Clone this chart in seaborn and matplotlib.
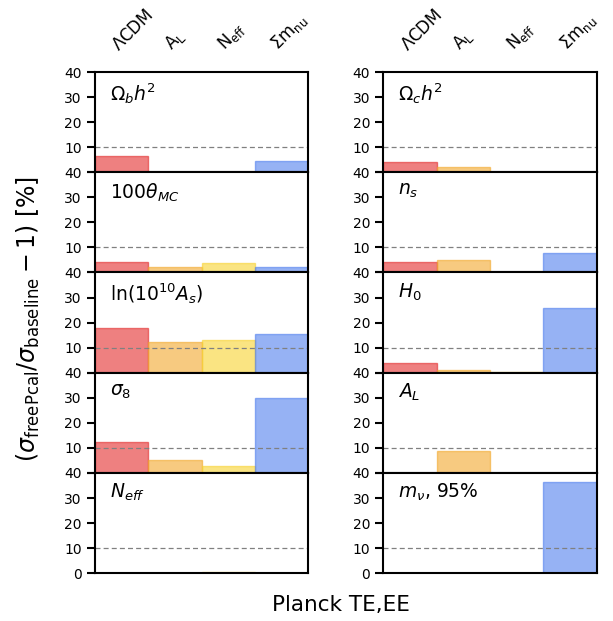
import pandas as pd
import matplotlib
matplotlib.use('Agg')
import matplotlib.pyplot as plt
import seaborn as sns

# extensions of the baseline model (x categories)
models = ['LCDM', 'AL', 'Neff', 'mnu']
model_labels = [r'$\Lambda$CDM', r'$\mathrm{A_L}$', r'$\mathrm{N_{eff}}$', r'$\Sigma\mathrm{m_{nu}}$']
colors = ['#e32b2b', '#f2a82b', '#f7d22f', '#507fee']

# parameter panels, left column then right column
params_left = [r'$\Omega_b h^2$', r'$100\theta_{MC}$', r'$\ln(10^{10}A_s)$', r'$\sigma_8$', r'$N_{eff}$']
params_right = [r'$\Omega_c h^2$', r'$n_s$', r'$H_0$', r'$A_L$', r'$m_\nu$, 95%']

# percentage increase of the error bars, per model
ombh2 = [6.3, 0.0, 0.0, 4.3]
theta = [4.3, 2.0, 3.9, 2.0]
logA = [17.9, 12.4, 13.2, 15.3]
sigma8 = [12.3, 5.1, 2.8, 29.9]
neff = [0.0, 0.0, 0.3, 0.0]

omch2 = [3.9, 2.1, 0.2, 0.0]
ns = [4.3, 5.1, 0.2, 7.6]
H0 = [3.9, 1.1, 0.3, 25.9]
AL = [0.0, 8.7, 0.0, 0.0]
mnu = [0.0, 0.0, 0.0, 36.5]

left_vals = [ombh2, theta, logA, sigma8, neff]
right_vals = [omch2, ns, H0, AL, mnu]

yticks = [0, 10, 20, 30, 40]

sns.set_style('ticks')
plt.rcParams['font.family'] = ['DejaVu Sans']
plt.rcParams['mathtext.fontset'] = 'dejavusans'
plt.rcParams['text.color'] = 'black'
plt.rcParams['xtick.color'] = 'black'
plt.rcParams['ytick.color'] = 'black'

fig = plt.figure(figsize=(6.13, 6.21), dpi=100)

palette = dict(zip(models, colors))
x0s = [0.155, 0.6256]
w = 0.3475
top = 0.884
h = 0.1614

for col, (labels, vals) in enumerate([(params_left, left_vals), (params_right, right_vals)]):
    for row in range(5):
        ax = fig.add_axes([x0s[col], top - (row + 1) * h, w, h])
        df = pd.DataFrame({'model': models, 'value': vals[row]})
        sns.barplot(data=df, x='model', y='value', hue='model', order=models,
                    palette=palette, saturation=1, width=1.0, alpha=0.6,
                    legend=False, ax=ax)
        for p, c in zip(ax.patches, colors):
            p.set_edgecolor(matplotlib.colors.to_rgba(c, 0.8))
            p.set_linewidth(1.0)
        ax.axhline(10, color='gray', ls='--', lw=0.9, dashes=(4, 2.5))
        ax.set_xlim(-0.5, 3.5)
        ax.set_ylim(0, 40)
        ax.set_yticks(yticks)
        if row < 4:
            # the 0 of this panel sits under the 40 of the panel below
            ax.set_yticklabels([''] + [str(t) for t in yticks[1:]])
        ax.set_xlabel('')
        ax.set_ylabel('')
        ax.tick_params(axis='y', labelsize=10, length=6, width=1.5, colors='black')
        for s in ax.spines.values():
            s.set_linewidth(1.5)
            s.set_color('black')
        ax.text(0.07, 0.91, labels[row], transform=ax.transAxes,
                fontsize=13.5, va='top', ha='left')
        if row == 0:
            ax.xaxis.set_ticks_position('top')
            ax.set_xticks(range(4))
            ax.set_xticklabels(model_labels, rotation=45, ha='left', va='bottom',
                               rotation_mode='anchor', fontsize=12)
            ax.tick_params(axis='x', length=0, pad=13)
        else:
            ax.set_xticks([])

fig.text(0.046, 0.487, r'$(\sigma_{\rm freePcal}/\sigma_{\rm baseline}-1)$ [%]',
         rotation=90, ha='center', va='center', fontsize=17)
fig.text(0.556, 0.026, 'Planck TE,EE', ha='center', va='center', fontsize=15.5)

fig.savefig('out.png', dpi=100)
